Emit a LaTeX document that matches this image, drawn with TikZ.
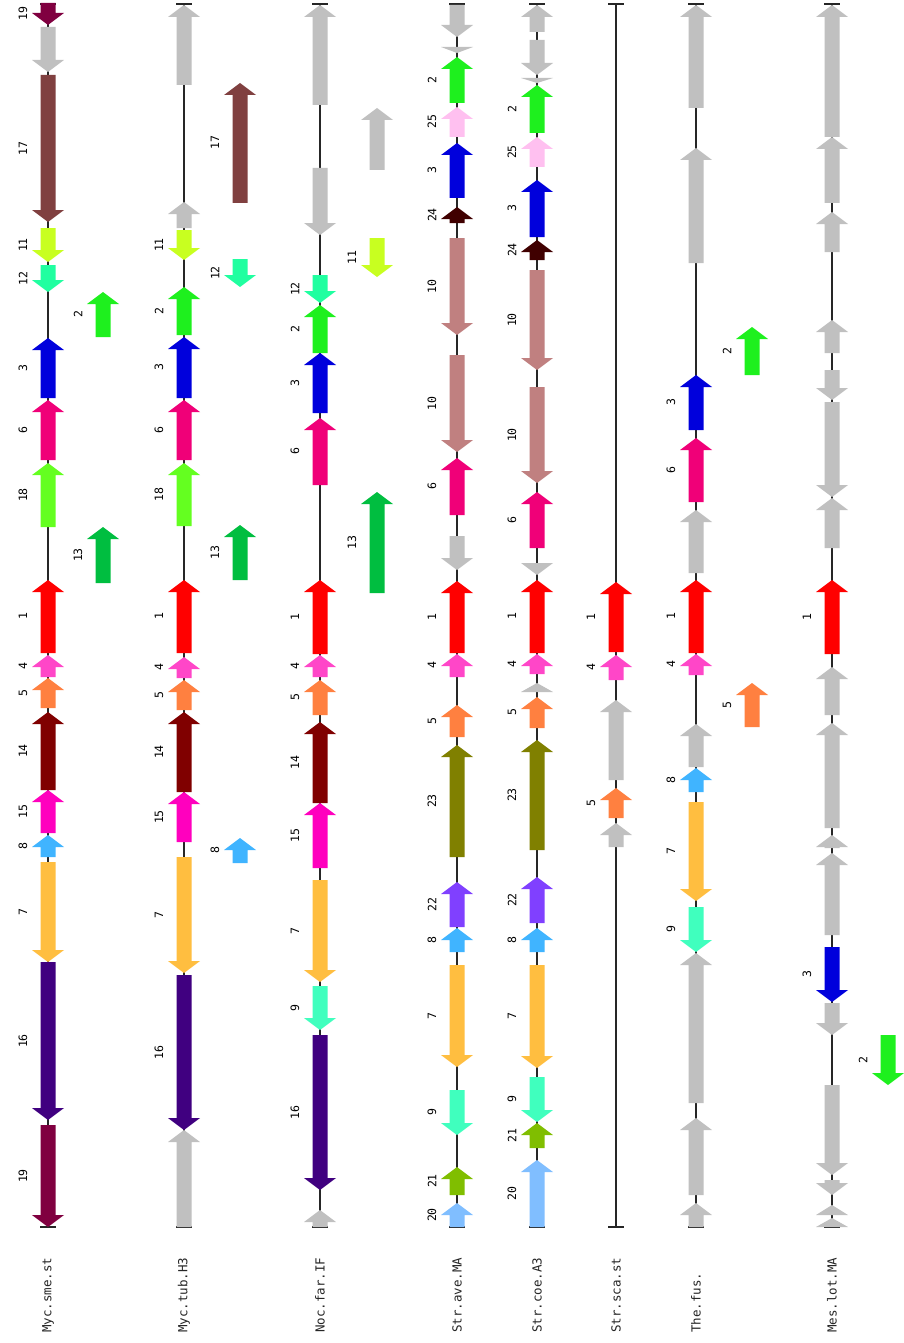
\documentclass[tikz,border=0pt]{standalone}
\usepackage{fontspec}
\setmonofont{DejaVu Sans Mono}

% gene colours
\definecolor{c1}{RGB}{255,0,0}
\definecolor{c2}{RGB}{30,240,30}
\definecolor{c3}{RGB}{0,0,220}
\definecolor{c4}{RGB}{255,70,200}
\definecolor{c5}{RGB}{255,128,64}
\definecolor{c6}{RGB}{240,0,120}
\definecolor{c7}{RGB}{255,190,64}
\definecolor{c8}{RGB}{64,180,255}
\definecolor{c9}{RGB}{64,255,190}
\definecolor{c10}{RGB}{192,128,128}
\definecolor{c11}{RGB}{200,255,32}
\definecolor{c12}{RGB}{32,255,160}
\definecolor{c13}{RGB}{0,190,64}
\definecolor{c14}{RGB}{128,0,0}
\definecolor{c15}{RGB}{255,0,190}
\definecolor{c16}{RGB}{64,0,128}
\definecolor{c17}{RGB}{128,64,64}
\definecolor{c18}{RGB}{100,255,32}
\definecolor{c19}{RGB}{128,0,64}
\definecolor{c20}{RGB}{128,190,255}
\definecolor{c21}{RGB}{128,190,0}
\definecolor{c22}{RGB}{128,64,255}
\definecolor{c23}{RGB}{128,128,0}
\definecolor{c24}{RGB}{64,0,0}
\definecolor{c25}{RGB}{255,192,240}
\definecolor{cg}{RGB}{192,192,192}

% #1 track x, #2 tail, #3 tip, #4 colour
\newcommand{\genebody}[4]{%
  \pgfmathsetmacro\gdir{sign(#2-#3)}%
  \pgfmathsetmacro\glen{abs(#2-#3)}%
  \pgfmathsetmacro\gbase{#3+\gdir*min(12,\glen)}%
  \fill[#4] (#1-7.5,#2) -- (#1-7.5,\gbase) -- (#1-16,\gbase) -- (#1,#3)
    -- (#1+16,\gbase) -- (#1+7.5,\gbase) -- (#1+7.5,#2) -- cycle;}
% coloured gene with its number
\newcommand{\gene}[5]{%
  \genebody{#1}{#2}{#3}{#4}%
  \node[num] (g#1-#2) at (#1-25,{(#2+#3)/2}) {#5};}
% grey gene, no number
\newcommand{\hyp}[3]{\genebody{#1}{#2}{#3}{cg}}

\begin{document}
\begin{tikzpicture}[
  x=1pt, y=-1pt,
  track/.style={line width=1.4pt, black!85},
  num/.style={rotate=90, font=\ttfamily\fontsize{11.5}{13}\selectfont, inner sep=0pt},
  strain/.style={rotate=90, anchor=west, font=\ttfamily\fontsize{12.5}{14}\selectfont, inner sep=0pt, text=black!85},
]
\fill[white] (0,0) rectangle (903,1343);
\useasboundingbox (0,0) rectangle (903,1343);

% === TRACK LINES ===
\foreach \tx in {48,184,320,457,537,616,696,832} {
  \draw[track] (\tx,4) -- (\tx,1227);
  \draw[track] (\tx-8,4) -- (\tx+8,4);
  \draw[track] (\tx-8,1227) -- (\tx+8,1227);
}

% === Myc.sme.st ===
\gene{48}{3}{25}{c19}{19}
\hyp{48}{27}{72}
\gene{48}{75}{222}{c17}{17}
\gene{48}{228}{262}{c11}{11}
\gene{48}{265}{292}{c12}{12}
\gene{48}{398}{338}{c3}{3}
\gene{48}{460}{400}{c6}{6}
\gene{48}{527}{463}{c18}{18}
\gene{48}{653}{580}{c1}{1}
\gene{48}{677}{655}{c4}{4}
\gene{48}{708}{678}{c5}{5}
\gene{48}{790}{712}{c14}{14}
\gene{48}{833}{790}{c15}{15}
\gene{48}{857}{835}{c8}{8}
\gene{48}{862}{962}{c7}{7}
\gene{48}{962}{1120}{c16}{16}
\gene{48}{1125}{1227}{c19}{19}
\gene{103}{337}{292}{c2}{2}
\gene{103}{583}{527}{c13}{13}

% === Myc.tub.H3 ===
\hyp{184}{85}{5}
\hyp{184}{228}{202}
\gene{184}{230}{260}{c11}{11}
\gene{184}{335}{287}{c2}{2}
\gene{184}{398}{337}{c3}{3}
\gene{184}{460}{400}{c6}{6}
\gene{184}{526}{463}{c18}{18}
\gene{184}{653}{580}{c1}{1}
\gene{184}{678}{657}{c4}{4}
\gene{184}{710}{680}{c5}{5}
\gene{184}{792}{712}{c14}{14}
\gene{184}{842}{792}{c15}{15}
\gene{184}{857}{973}{c7}{7}
\gene{184}{975}{1130}{c16}{16}
\hyp{184}{1227}{1130}
\gene{240}{203}{83}{c17}{17}
\gene{240}{259}{287}{c12}{12}
\gene{240}{580}{525}{c13}{13}
\gene{240}{863}{838}{c8}{8}

% === Noc.far.IF ===
\hyp{320}{105}{5}
\hyp{320}{168}{235}
\gene{320}{275}{303}{c12}{12}
\gene{320}{353}{305}{c2}{2}
\gene{320}{413}{353}{c3}{3}
\gene{320}{485}{418}{c6}{6}
\gene{320}{654}{580}{c1}{1}
\gene{320}{677}{655}{c4}{4}
\gene{320}{715}{680}{c5}{5}
\gene{320}{803}{722}{c14}{14}
\gene{320}{868}{803}{c15}{15}
\gene{320}{880}{982}{c7}{7}
\gene{320}{986}{1030}{c9}{9}
\gene{320}{1035}{1190}{c16}{16}
\hyp{320}{1227}{1210}
\hyp{377}{170}{108}
\gene{377}{238}{277}{c11}{11}
\gene{377}{593}{492}{c13}{13}

% === Str.ave.MA ===
\hyp{457}{5}{37}
\hyp{457}{47}{53}
\gene{457}{103}{57}{c2}{2}
\gene{457}{137}{107}{c25}{25}
\gene{457}{198}{143}{c3}{3}
\gene{457}{223}{207}{c24}{24}
\gene{457}{238}{335}{c10}{10}
\gene{457}{355}{452}{c10}{10}
\gene{457}{515}{458}{c6}{6}
\hyp{457}{536}{570}
\gene{457}{653}{581}{c1}{1}
\gene{457}{677}{654}{c4}{4}
\gene{457}{737}{705}{c5}{5}
\gene{457}{857}{745}{c23}{23}
\gene{457}{927}{882}{c22}{22}
\gene{457}{952}{928}{c8}{8}
\gene{457}{965}{1067}{c7}{7}
\gene{457}{1090}{1135}{c9}{9}
\gene{457}{1195}{1167}{c21}{21}
\gene{457}{1227}{1203}{c20}{20}

% === Str.coe.A3 ===
\hyp{537}{32}{5}
\hyp{537}{40}{75}
\hyp{537}{78}{83}
\gene{537}{133}{85}{c2}{2}
\gene{537}{167}{137}{c25}{25}
\gene{537}{237}{180}{c3}{3}
\gene{537}{260}{240}{c24}{24}
\gene{537}{270}{370}{c10}{10}
\gene{537}{387}{483}{c10}{10}
\gene{537}{548}{492}{c6}{6}
\hyp{537}{563}{575}
\gene{537}{653}{580}{c1}{1}
\gene{537}{674}{654}{c4}{4}
\hyp{537}{692}{683}
\gene{537}{728}{697}{c5}{5}
\gene{537}{850}{740}{c23}{23}
\gene{537}{923}{877}{c22}{22}
\gene{537}{952}{928}{c8}{8}
\gene{537}{965}{1068}{c7}{7}
\gene{537}{1077}{1122}{c9}{9}
\gene{537}{1148}{1123}{c21}{21}
\gene{537}{1227}{1160}{c20}{20}

% === Str.sca.st ===
\gene{616}{652}{582}{c1}{1}
\gene{616}{680}{655}{c4}{4}
\hyp{616}{780}{700}
\gene{616}{818}{788}{c5}{5}
\hyp{616}{847}{823}

% === The.fus. ===
\hyp{696}{108}{5}
\hyp{696}{263}{148}
\gene{696}{430}{375}{c3}{3}
\gene{696}{502}{438}{c6}{6}
\hyp{696}{573}{510}
\gene{696}{653}{580}{c1}{1}
\gene{696}{675}{654}{c4}{4}
\hyp{696}{767}{724}
\gene{696}{792}{768}{c8}{8}
\gene{696}{802}{901}{c7}{7}
\gene{696}{907}{952}{c9}{9}
\hyp{696}{1103}{953}
\hyp{696}{1195}{1118}
\hyp{696}{1227}{1203}
\gene{752}{375}{327}{c2}{2}
\gene{752}{727}{683}{c5}{5}

% === Mes.lot.MA ===
\hyp{832}{137}{5}
\hyp{832}{203}{137}
\hyp{832}{252}{212}
\hyp{832}{353}{320}
\hyp{832}{370}{400}
\hyp{832}{402}{497}
\hyp{832}{548}{498}
\gene{832}{654}{580}{c1}{1}
\hyp{832}{715}{667}
\hyp{832}{828}{723}
\hyp{832}{848}{835}
\hyp{832}{935}{853}
\gene{832}{947}{1002}{c3}{3}
\hyp{832}{1003}{1035}
\hyp{832}{1085}{1175}
\hyp{832}{1180}{1195}
\hyp{832}{1215}{1205}
\hyp{832}{1227}{1218}
\gene{888}{1035}{1085}{c2}{2}

% === STRAIN NAMES ===
\node[strain] (s1) at (48,1333) {Myc.sme.st};
\node[strain] (s2) at (184,1333) {Myc.tub.H3};
\node[strain] (s3) at (320,1333) {Noc.far.IF};
\node[strain] (s4) at (457,1333) {Str.ave.MA};
\node[strain] (s5) at (537,1333) {Str.coe.A3};
\node[strain] (s6) at (616,1333) {Str.sca.st};
\node[strain] (s7) at (696,1333) {The.fus.};
\node[strain] (s8) at (832,1333) {Mes.lot.MA};
\end{tikzpicture}
\end{document}
